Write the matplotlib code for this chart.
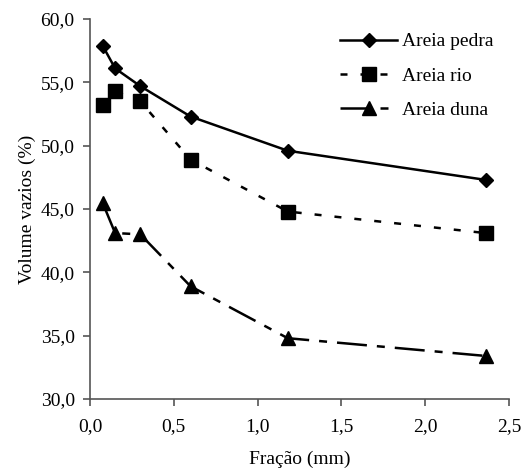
#!/usr/bin/env python3
# -*- coding: utf-8 -*-

# Import modules
import matplotlib
matplotlib.use("Agg")
import matplotlib.pyplot as plt
from matplotlib.ticker import FuncFormatter, MultipleLocator


#################### DATA ####################
fracao = [0.075, 0.15, 0.3, 0.6, 1.18, 2.36]

areia_pedra = [57.9, 56.1, 54.7, 52.3, 49.6, 47.3]
areia_rio = [53.2, 54.3, 53.5, 48.9, 44.8, 43.1]
areia_duna = [45.5, 43.1, 43.0, 38.9, 34.8, 33.4]

labels = ["Areia pedra", "Areia rio", "Areia duna"]


#################### MAIN ####################
def comma_fmt(v, pos):
    return ("%.1f" % v).replace(".", ",")


def main():
    plt.rcParams["font.family"] = ["Liberation Serif", "DejaVu Serif"]
    plt.rcParams["font.size"] = 14

    fig = plt.figure(figsize=(5.27, 4.72), dpi=100)
    ax = fig.add_axes([90/527, 1 - 399/472, 419/527, 380/472])

    # Plot series
    lw = 1.8
    ax.plot(fracao, areia_pedra, color="black", lw=lw, ls="-",
            marker="D", ms=7, label=labels[0])
    ax.plot(fracao, areia_rio, color="black", lw=lw, ls=(0, (2.8, 5.2)),
            marker="s", ms=9.5, label=labels[1])
    ax.plot(fracao, areia_duna, color="black", lw=lw,
            ls=(0, (12, 4, 3.2, 4)),
            marker="^", ms=9.5, label=labels[2])

    # Format axes
    ax.set_xlim(0, 2.5)
    ax.set_ylim(30, 60)
    ax.xaxis.set_major_locator(MultipleLocator(0.5))
    ax.yaxis.set_major_locator(MultipleLocator(5))
    ax.xaxis.set_major_formatter(FuncFormatter(comma_fmt))
    ax.yaxis.set_major_formatter(FuncFormatter(comma_fmt))
    for side in ["top", "right"]:
        ax.spines[side].set_visible(False)
    for side in ["left", "bottom"]:
        ax.spines[side].set_color("#555555")
        ax.spines[side].set_linewidth(1.2)
    ax.tick_params(direction="out", length=5, width=1.2, color="#555555",
                   labelsize=14)
    ax.tick_params(axis="y", pad=6)
    ax.tick_params(axis="x", pad=9)

    ax.set_xlabel("Fração (mm)", fontsize=14, labelpad=11)
    ax.set_ylabel("Volume vazios (%)", fontsize=14, labelpad=3)

    ax.legend(loc="upper right", bbox_to_anchor=(501/527, 1 - 25/472),
              bbox_transform=fig.transFigure, borderaxespad=0,
              frameon=False, fontsize=14, handlelength=2.9,
              labelspacing=0.85, handletextpad=0.25)

    fig.savefig("out.png", dpi=100)


if __name__ == "__main__":
    main()


# end of file
